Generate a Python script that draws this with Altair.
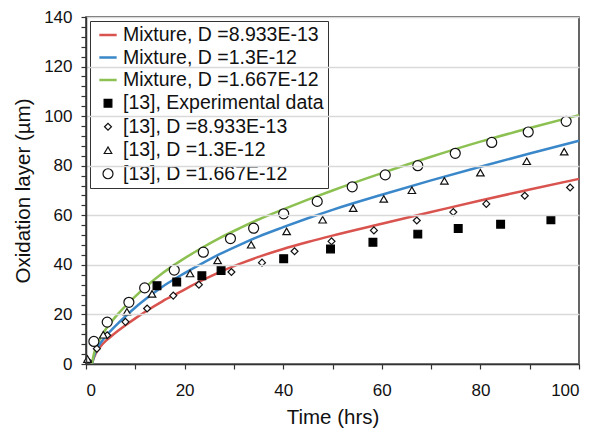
import altair as alt
import pandas as pd

# ---- series labels ----
L1 = "Mixture, D =8.933E-13"
L2 = "Mixture, D =1.3E-12"
L3 = "Mixture, D =1.667E-12"
L4 = "[13], Experimental data"
L5 = "[13], D =8.933E-13"
L6 = "[13], D =1.3E-12"
L7 = "[13], D =1.667E-12"
labels = [L1, L2, L3, L4, L5, L6, L7]

# ---- model curves ----
curve_t = [1.2, 1.6, 2.2, 3, 4, 5, 6.5, 8, 10, 12.5, 15.5, 19, 23.2, 27, 31.3, 35, 40, 45, 50, 60, 70, 80, 90, 100]
red_y = [0, 2.5, 5.0, 7.2, 9.3, 11.0, 13.4, 15.6, 18.4, 21.7, 25.3, 29.0, 33.4, 37.0, 40.5, 43.2, 46.4, 49.2, 51.8, 56.6, 61.3, 66.0, 70.4, 74.7]
blue_y = [0, 3.0, 6.0, 8.6, 11.2, 13.4, 16.4, 19.2, 22.8, 26.8, 31.2, 35.5, 40.2, 44.2, 48.2, 51.4, 55.2, 58.8, 62.2, 68.3, 74.1, 79.6, 84.9, 90.1]
green_y = [0, 4.0, 7.6, 10.8, 14.0, 16.6, 20.2, 23.4, 27.3, 31.8, 36.6, 41.4, 46.5, 50.7, 54.9, 58.3, 62.4, 66.3, 70.0, 77.0, 83.6, 89.7, 95.2, 100.4]

# ---- [13] data points ----
exp_t = [14.4, 18.4, 23.5, 27.4, 40.1, 49.6, 58.2, 67.3, 75.5, 84.1, 94.3]
exp_y = [31.6, 33.1, 35.6, 37.7, 42.5, 46.4, 49.1, 52.4, 54.7, 56.4, 58.2]

dia_t = [0.4, 2.2, 4.3, 8.0, 12.4, 17.7, 22.9, 29.5, 35.7, 42.3, 49.8, 58.4, 67.1, 74.5, 81.2, 89.0, 98.2]
dia_y = [1.2, 6.2, 11.6, 17.0, 22.4, 27.6, 32.0, 37.1, 40.9, 45.5, 49.5, 53.9, 57.9, 61.3, 64.6, 67.9, 71.2]

tri_t = [0.3, 3.5, 8.3, 13.4, 21.1, 26.7, 33.5, 40.7, 48.0, 54.2, 60.4, 66.1, 72.7, 80.0, 89.4, 97.0]
tri_y = [2.0, 11.8, 21.1, 28.3, 36.5, 41.8, 48.1, 53.5, 58.2, 62.9, 66.6, 70.1, 73.9, 77.2, 81.8, 85.7]

cir_t = [1.6, 4.3, 8.7, 11.9, 17.9, 23.8, 29.3, 34.0, 40.1, 46.9, 54.0, 60.7, 67.3, 74.9, 82.3, 89.7, 97.4]
cir_y = [9.1, 16.9, 24.9, 30.7, 37.9, 45.1, 50.6, 54.8, 60.6, 65.6, 71.5, 76.3, 80.0, 85.0, 89.4, 93.6, 97.9]

# ---- build tables ----
curves = pd.concat([
    pd.DataFrame({"t": curve_t, "y": red_y, "series": L1}),
    pd.DataFrame({"t": curve_t, "y": blue_y, "series": L2}),
    pd.DataFrame({"t": curve_t, "y": green_y, "series": L3}),
])
points = pd.concat([
    pd.DataFrame({"t": exp_t, "y": exp_y, "series": L4}),
    pd.DataFrame({"t": dia_t, "y": dia_y, "series": L5}),
    pd.DataFrame({"t": tri_t, "y": tri_y, "series": L6}),
    pd.DataFrame({"t": cir_t, "y": cir_y, "series": L7}),
])

FONT = "Liberation Sans"
stroke_range = ["#d9534f", "#3a87c9", "#8cc152", "#000000", "#111111", "#111111", "#111111"]
shape_range = ["stroke", "stroke", "stroke", "square", "diamond", "triangle-up", "circle"]
fill_range = ["transparent", "transparent", "transparent", "#000000", "#ffffff", "#ffffff", "#ffffff"]
size_range = [300, 300, 300, 60, 48, 56, 100]
sw_range = [2.5, 2.5, 2.5, 1.2, 1.2, 1.2, 1.2]

legend = alt.Legend(
    title=None,
    orient="top-left",
    offset=4,
    labelFont=FONT,
    labelFontSize=19.5,
    labelColor="#111111",
    padding=4,
    rowPadding=2.5,
    symbolOffset=4,
    labelOffset=5,
    strokeColor="#333333",
    fillColor="#ffffff",
    labelLimit=400,
)

x_enc = alt.X(
    "t:Q",
    scale=alt.Scale(domain=[0, 100], nice=False),
    axis=alt.Axis(
        title="Time (hrs)",
        values=list(range(0, 101, 10)),
        labelExpr="datum.value % 20 === 0 ? datum.label : ''",
        grid=False,
        ticks=True,
        tickSize=5,
        tickColor="#333333",
        tickWidth=1.2,
        labelPadding=13,
        titlePadding=9,
        zindex=1,
    ),
)
y_enc = alt.Y(
    "y:Q",
    scale=alt.Scale(domain=[0, 140], nice=False),
    axis=alt.Axis(
        title="Oxidation layer  (\u00b5m)",
        values=list(range(0, 141, 4)),
        labelExpr="datum.value % 20 === 0 ? datum.label : ''",
        grid=True,
        gridOpacity={"condition": {"test": "datum.value % 20 === 0", "value": 1}, "value": 0},
        ticks=True,
        tickSize=5,
        tickColor="#333333",
        tickWidth=1.2,
        labelPadding=9,
        titlePadding=10,
        zindex=1,
    ),
)

color_enc = alt.Color("series:N", scale=alt.Scale(domain=labels, range=stroke_range), legend=legend)
shape_enc = alt.Shape("series:N", scale=alt.Scale(domain=labels, range=shape_range), legend=legend)
fill_enc = alt.Fill("series:N", scale=alt.Scale(domain=labels, range=fill_range), legend=legend)
size_enc = alt.Size("series:N", scale=alt.Scale(type="ordinal", domain=labels, range=size_range), legend=legend)
sw_enc = alt.StrokeWidth("series:N", scale=alt.Scale(type="ordinal", domain=labels, range=sw_range), legend=legend)

lines = alt.Chart(curves).mark_line(strokeWidth=2.5, interpolate="monotone").encode(
    x=x_enc, y=y_enc, color=color_enc, detail="series:N"
)

marks = alt.Chart(points).mark_point(opacity=1, filled=False).encode(
    x=x_enc, y=y_enc, color=color_enc, shape=shape_enc, fill=fill_enc,
    size=size_enc, strokeWidth=sw_enc,
)

chart = alt.layer(lines, marks).properties(
    width=493,
    height=347,
    autosize="none",
    padding={"left": 78, "top": 9, "right": 10, "bottom": 64},
).configure_view(
    stroke="#333333", strokeWidth=1.5
).configure_axis(
    labelFont=FONT,
    titleFont=FONT,
    labelFontSize=17,
    titleFontSize=20.5,
    titleFontWeight="normal",
    labelColor="#111111",
    titleColor="#111111",
    domainColor="#333333",
    domainWidth=1.5,
    gridColor="#d9d9d9",
    gridWidth=1.5,
)

chart.save("out.html", embed_options={"renderer": "svg", "actions": False})
